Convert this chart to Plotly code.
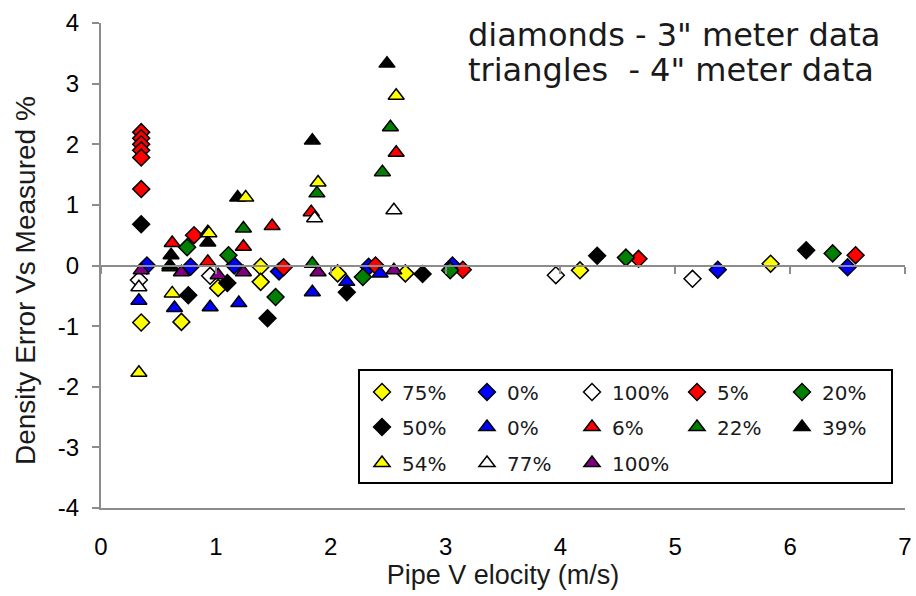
import plotly.graph_objects as go

# ---- 3" meter (diamonds) ----
d75_x = [0.35, 0.70, 1.02, 1.39, 1.39, 2.06, 2.65, 4.17, 5.83]
d75_y = [-0.94, -0.93, -0.37, -0.02, -0.27, -0.13, -0.13, -0.08, 0.03]

d0_x = [0.40, 0.78, 1.16, 1.55, 2.33, 3.06, 5.37, 6.50]
d0_y = [0.00, -0.02, 0.00, -0.10, -0.02, 0.00, -0.07, -0.03]

d100_x = [0.33, 0.95, 3.96, 5.15]
d100_y = [-0.24, -0.17, -0.16, -0.22]

d5_x = [0.35, 0.35, 0.35, 0.35, 0.35, 0.35, 0.81, 1.59, 2.39, 3.15, 4.68, 6.57]
d5_y = [2.20, 2.10, 2.00, 1.90, 1.78, 1.26, 0.50, -0.03, 0.00, -0.07, 0.11, 0.17]

d20_x = [0.75, 1.11, 1.52, 2.28, 3.04, 4.57, 6.37]
d20_y = [0.30, 0.17, -0.52, -0.19, -0.08, 0.13, 0.20]

d50_x = [0.35, 0.76, 1.10, 1.45, 2.14, 2.80, 4.32, 6.14]
d50_y = [0.68, -0.49, -0.29, -0.87, -0.44, -0.14, 0.16, 0.25]

# ---- 4" meter (triangles) ----
t0_x = [0.33, 0.64, 0.95, 1.20, 1.84, 2.14, 2.43]
t0_y = [-0.58, -0.70, -0.69, -0.62, -0.44, -0.27, -0.13]

t6_x = [0.62, 0.93, 1.24, 1.49, 1.83, 2.57]
t6_y = [0.37, 0.06, 0.31, 0.65, 0.88, 1.86]

t22_x = [0.60, 1.24, 1.84, 1.88, 2.45, 2.52]
t22_y = [-0.03, 0.61, 0.03, 1.19, 1.54, 2.28]

t39_x = [0.61, 0.60, 0.93, 0.93, 1.19, 1.84, 2.49]
t39_y = [0.17, 0.00, 0.38, 0.55, 1.12, 2.06, 3.33]

t54_x = [0.33, 0.62, 0.94, 1.26, 1.89, 2.57]
t54_y = [-1.77, -0.46, 0.53, 1.12, 1.37, 2.80]

t77_x = [0.33, 1.86, 2.55]
t77_y = [-0.36, 0.78, 0.91]

t100_x = [0.35, 0.70, 1.02, 1.24, 1.89, 2.55]
t100_y = [-0.08, -0.11, -0.16, -0.11, -0.11, -0.08]

x_ticks = [0, 1, 2, 3, 4, 5, 6, 7]
y_ticks = [-4, -3, -2, -1, 0, 1, 2, 3, 4]
y_tick_text = ["-4", "-3", "-2", "-1", "0", "1", "2", "3", "4"]

series = [
    # name, x, y, symbol, colour, legend row
    ("75%", d75_x, d75_y, "diamond", "#FFFF00", "legend"),
    ("0%", d0_x, d0_y, "diamond", "#0000FF", "legend"),
    ("100%", d100_x, d100_y, "diamond", "#FFFFFF", "legend"),
    ("5%", d5_x, d5_y, "diamond", "#FF0000", "legend"),
    ("20%", d20_x, d20_y, "diamond", "#008000", "legend"),
    ("50%", d50_x, d50_y, "diamond", "#000000", "legend2"),
    ("0%", t0_x, t0_y, "triangle-up", "#0000FF", "legend2"),
    ("6%", t6_x, t6_y, "triangle-up", "#FF0000", "legend2"),
    ("22%", t22_x, t22_y, "triangle-up", "#008000", "legend2"),
    ("39%", t39_x, t39_y, "triangle-up", "#000000", "legend2"),
    ("54%", t54_x, t54_y, "triangle-up", "#FFFF00", "legend3"),
    ("77%", t77_x, t77_y, "triangle-up", "#FFFFFF", "legend3"),
    ("100%", t100_x, t100_y, "triangle-up", "#800080", "legend3"),
]

fig = go.Figure()
for name, xs, ys, sym, col, leg in series:
    fig.add_trace(go.Scatter(
        x=xs, y=ys, mode="markers", name=name, legend=leg,
        marker=dict(symbol=sym, size=13 if sym == "diamond" else 14,
                    color=col, line=dict(color="#000000", width=1.5)),
    ))

AX = "#8c8c8c"
TICK_FONT = dict(family="Liberation Sans, Arial, sans-serif", size=24, color="#000000")
XTITLE_FONT = dict(family="Liberation Sans, Arial, sans-serif", size=27, color="#1a1a1a")
YTITLE_FONT = dict(family="Liberation Sans, Arial, sans-serif", size=28, color="#1a1a1a")
LEG_FONT = dict(family="DejaVu Sans, sans-serif", size=20, color="#1a1a1a")

W, H = 916, 596
ML, MR, MT, MB = 101, 11, 23, 88
PW, PH = W - ML - MR, H - MT - MB


def px_x(p):
    return (p - ML) / PW


def px_y(p):
    return (H - MB - p) / PH


legend_common = dict(orientation="h", xanchor="left", yanchor="middle",
                     bgcolor="rgba(0,0,0,0)", borderwidth=0, font=LEG_FONT,
                     entrywidth=60, entrywidthmode="pixels", itemsizing="trace",
                     tracegroupgap=0)

fig.update_layout(
    width=W, height=H,
    margin=dict(l=ML, r=MR, t=MT, b=MB, autoexpand=False),
    paper_bgcolor="white", plot_bgcolor="white",
    xaxis=dict(range=[0, 7], tickvals=x_ticks, automargin=False,
               showline=True, linecolor=AX, linewidth=2, ticks="",
               showgrid=False, zeroline=False, tickfont=TICK_FONT,
               ticklabelstandoff=16,
               title=dict(text="Pipe V elocity (m/s)", font=XTITLE_FONT, standoff=6)),
    xaxis2=dict(range=[0, 7], overlaying="x", anchor="free", position=0.5,
                tickvals=x_ticks, showticklabels=False, automargin=False,
                showline=True, linecolor=AX, linewidth=2, ticks="outside",
                ticklen=7, tickwidth=2, tickcolor=AX, showgrid=False, zeroline=False),
    yaxis=dict(range=[-4, 4], tickvals=y_ticks, ticktext=y_tick_text, automargin=False,
               showline=True, linecolor=AX, linewidth=2, ticks="outside",
               ticklen=7, tickwidth=2, tickcolor=AX, showgrid=False, zeroline=False,
               tickfont=TICK_FONT, ticklabelstandoff=8),
    legend=dict(x=px_x(362), y=px_y(392), **legend_common),
    legend2=dict(x=px_x(362), y=px_y(427), **legend_common),
    legend3=dict(x=px_x(362), y=px_y(463), **legend_common),
    showlegend=True,
)

# empty trace on the secondary x axis so that the zero-line axis is drawn
fig.add_trace(go.Scatter(x=[], y=[], xaxis="x2", showlegend=False, hoverinfo="skip"))

# y axis title, placed slightly below the plot centre
fig.add_annotation(text="Density Error Vs Measured %", xref="paper", yref="paper",
                   x=px_x(25), y=px_y(281), xanchor="center", yanchor="middle",
                   textangle=-90, showarrow=False, font=YTITLE_FONT)

# legend frame
fig.add_shape(type="rect", xref="paper", yref="paper",
              x0=px_x(359), x1=px_x(892), y0=px_y(483), y1=px_y(370),
              line=dict(color="#000000", width=2), fillcolor="rgba(0,0,0,0)", layer="above")

NOTE_FONT = dict(family="DejaVu Sans, sans-serif", size=32, color="#1a1a1a")
fig.add_annotation(text='diamonds - 3" meter data', xref="paper", yref="paper",
                   x=px_x(466), y=px_y(35), xanchor="left", yanchor="middle",
                   showarrow=False, font=NOTE_FONT)
fig.add_annotation(text='triangles  - 4" meter data', xref="paper", yref="paper",
                   x=px_x(466), y=px_y(70), xanchor="left", yanchor="middle",
                   showarrow=False, font=NOTE_FONT)

fig.write_html("out.html")
